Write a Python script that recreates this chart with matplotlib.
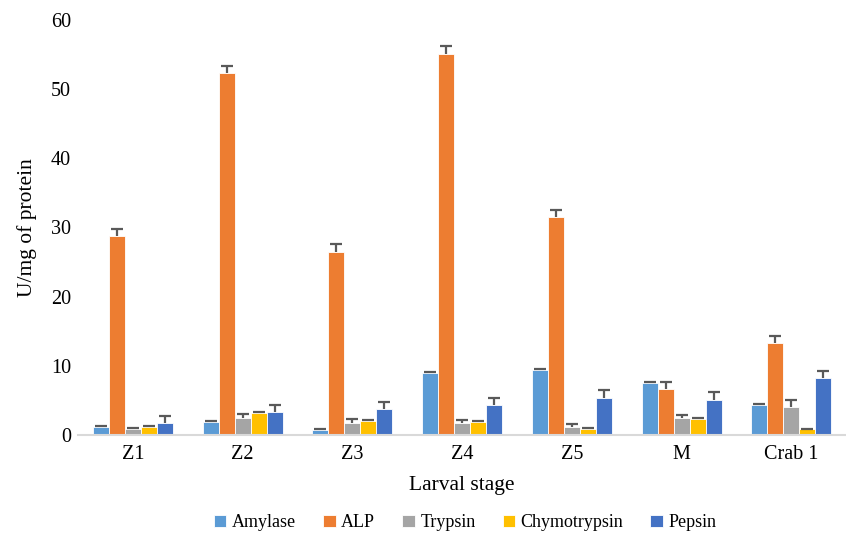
import numpy as np
import matplotlib
matplotlib.use("Agg")
import matplotlib.pyplot as plt

plt.rcParams['font.family'] = ['Liberation Serif', 'DejaVu Serif']

stages = ['Z1', 'Z2', 'Z3', 'Z4', 'Z5', 'M', 'Crab 1']
enzymes = ['Amylase', 'ALP', 'Trypsin', 'Chymotrypsin', 'Pepsin']
colors = ['#5B9BD5', '#ED7D31', '#A5A5A5', '#FFC000', '#4472C4']

# activity (U/mg of protein) per stage
amylase = [1.2, 1.9, 0.7, 9.0, 9.4, 7.5, 4.3]
alp = [28.8, 52.3, 26.5, 55.1, 31.5, 6.6, 13.3]
trypsin = [0.9, 2.5, 1.8, 1.7, 1.1, 2.5, 4.0]
chymotrypsin = [1.2, 3.2, 2.0, 1.9, 0.9, 2.3, 0.8]
pepsin = [1.7, 3.3, 3.7, 4.4, 5.4, 5.1, 8.2]

# standard errors
amylase_err = [0.15, 0.15, 0.1, 0.15, 0.1, 0.2, 0.2]
alp_err = [1.0, 1.0, 1.05, 1.05, 1.0, 1.0, 1.0]
trypsin_err = [0.15, 0.6, 0.45, 0.45, 0.5, 0.4, 1.1]
chymotrypsin_err = [0.15, 0.1, 0.1, 0.1, 0.1, 0.1, 0.1]
pepsin_err = [1.0, 1.1, 1.1, 1.0, 1.1, 1.1, 1.1]

values = [amylase, alp, trypsin, chymotrypsin, pepsin]
errors = [amylase_err, alp_err, trypsin_err, chymotrypsin_err, pepsin_err]

fig = plt.figure(figsize=(8.46, 5.35), dpi=100)
ax = fig.add_axes([0.0922, 0.187, 0.908, 0.776])

x = np.arange(len(stages))
w = 0.146
for j, (name, vals, errs) in enumerate(zip(enzymes, values, errors)):
    ax.bar(x + (j - 2) * w, vals, w, color=colors[j], edgecolor='white',
           linewidth=0.6, label=name, zorder=2)
    eb = ax.errorbar(x + (j - 2) * w, vals, yerr=[np.zeros(len(errs)), errs],
                     fmt='none', ecolor='#595959', elinewidth=1.6, capsize=4,
                     capthick=1.6, zorder=3)
    # only the upper cap is wanted
    eb[1][0].set_visible(False)

ax.set_xlim(-0.5, 6.5)
ax.set_ylim(0, 60)
ax.set_yticks(range(0, 61, 10))
ax.set_xticks(x)
ax.set_xticklabels(stages)
ax.tick_params(axis='both', length=0, labelsize=14.5)
ax.tick_params(axis='y', pad=5)
ax.tick_params(axis='x', pad=7)

for s in ['top', 'right', 'left']:
    ax.spines[s].set_visible(False)
ax.spines['bottom'].set_color('#D9D9D9')
ax.spines['bottom'].set_linewidth(1.5)

ax.set_ylabel('U/mg of protein', fontsize=15.5, labelpad=10)
ax.set_xlabel('Larval stage', fontsize=15.5, labelpad=9)

ax.legend(loc='upper center', bbox_to_anchor=(0.504, -0.152), ncol=5,
          frameon=False, fontsize=13, handlelength=0.7, handleheight=0.7,
          handletextpad=0.3, columnspacing=1.5)

fig.savefig('out.png', dpi=100)
